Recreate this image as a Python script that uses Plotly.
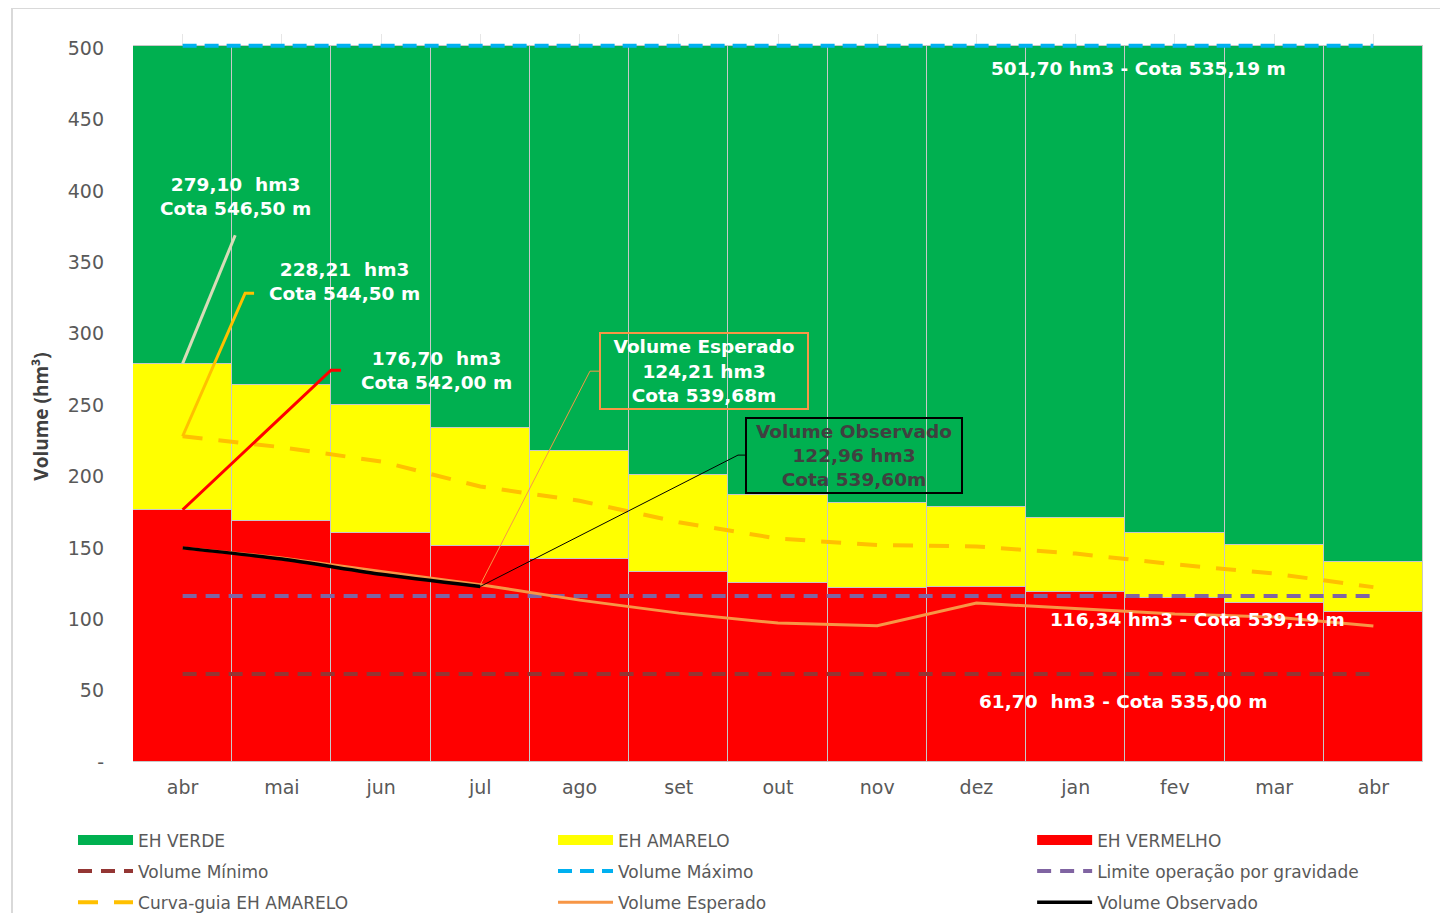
import plotly.graph_objects as go

months = ["abr", "mai", "jun", "jul", "ago", "set", "out", "nov", "dez", "jan", "fev", "mar", "abr"]
x = list(range(len(months)))

vol_max = 501.70
vol_min = 61.70
limite_grav = 116.34

# top of red band (EH VERMELHO)
red_top = [176.70, 168.8, 160.4, 151.3, 142.2, 133.1, 125.4, 121.8, 122.5, 119.0, 114.8, 111.3, 105.0]
# top of yellow band (EH AMARELO)
yellow_top = [279.10, 264.0, 250.0, 233.9, 217.8, 201.0, 187.0, 181.4, 178.6, 170.9, 160.4, 152.0, 140.1]

curva_guia = [228.21, 220.5, 210.5, 193.0, 183.0, 168.0, 156.5, 152.0, 151.0, 146.0, 138.5, 132.0, 122.5]
vol_esperado = [150.0, 143.0, 133.5, 124.21, 113.4, 104.3, 97.3, 95.5, 111.3, 107.5, 103.6, 101.5, 95.2]
vol_observado = [150.0, 142.2, 131.5, 122.96]

red_vals = red_top
yellow_vals = [yt - rt for yt, rt in zip(yellow_top, red_top)]
green_vals = [vol_max - yt for yt in yellow_top]

FONT = "DejaVu Sans"
GREY = "#595959"
bar_line = dict(color="#C8C8C8", width=1)

fig = go.Figure()

fig.add_trace(go.Bar(x=x, y=red_vals, name="EH VERMELHO", marker=dict(color="#FF0000", line=bar_line),
                     showlegend=False, hoverinfo="skip"))
fig.add_trace(go.Bar(x=x, y=yellow_vals, name="EH AMARELO", marker=dict(color="#FFFF00", line=bar_line),
                     showlegend=False, hoverinfo="skip"))
fig.add_trace(go.Bar(x=x, y=green_vals, name="EH VERDE", marker=dict(color="#00B050", line=bar_line),
                     showlegend=False, hoverinfo="skip"))

# legend entries for the bands (wide rectangle swatches)
for nm, col, lg, grp in [("EH VERDE", "#00B050", "legend", "g1"),
                         ("EH AMARELO", "#FFFF00", "legend2", "g2"),
                         ("EH VERMELHO", "#FF0000", "legend3", "g3")]:
    fig.add_trace(go.Scatter(x=[None], y=[None], mode="lines", name=nm,
                             line=dict(color=col, width=10), legend=lg, legendgroup=grp))

n = len(x)
fig.add_trace(go.Scatter(x=x, y=[vol_min] * n, mode="lines", name="Volume Mínimo",
                         line=dict(color="#943634", width=4, dash="14px,9px"),
                         legend="legend", legendgroup="g4"))
fig.add_trace(go.Scatter(x=x, y=[vol_max] * n, mode="lines", name="Volume Máximo",
                         line=dict(color="#00B0F0", width=4, dash="14px,8px"),
                         legend="legend2", legendgroup="g5"))
fig.add_trace(go.Scatter(x=x, y=[limite_grav] * n, mode="lines", name="Limite operação por gravidade",
                         line=dict(color="#8064A2", width=4, dash="14px,9px"),
                         legend="legend3", legendgroup="g6"))
fig.add_trace(go.Scatter(x=x, y=curva_guia, mode="lines", name="Curva-guia EH AMARELO",
                         line=dict(color="#FFC000", width=4, dash="20px,16px"),
                         legend="legend", legendgroup="g7"))
fig.add_trace(go.Scatter(x=x, y=vol_esperado, mode="lines", name="Volume Esperado",
                         line=dict(color="#F79646", width=3),
                         legend="legend2", legendgroup="g8"))
fig.add_trace(go.Scatter(x=x[:len(vol_observado)], y=vol_observado, mode="lines", name="Volume Observado",
                         line=dict(color="#000000", width=3.5, shape="spline", smoothing=0.6),
                         legend="legend3", legendgroup="g9"))

# leader lines (data coordinates)
def path(pts):
    return "M " + " L ".join(f"{a},{b}" for a, b in pts)

shapes = [
    dict(type="path", xref="x", yref="y", path=path([(0, yellow_top[0]), (0.53, 369)]),
         line=dict(color="#D8DCB8", width=3)),
    dict(type="path", xref="x", yref="y", path=path([(0, curva_guia[0]), (0.63, 328.4), (0.72, 328.4)]),
         line=dict(color="#FFC000", width=3)),
    dict(type="path", xref="x", yref="y", path=path([(0, red_top[0]), (1.495, 274.5), (1.596, 274.5)]),
         line=dict(color="#FF0000", width=3)),
    dict(type="path", xref="x", yref="y", path=path([(3, vol_esperado[3]), (4.105, 273.8), (4.206, 273.8)]),
         line=dict(color="#F79646", width=1)),
    dict(type="path", xref="x", yref="y", path=path([(3, vol_observado[3]), (5.597, 215), (5.678, 215)]),
         line=dict(color="#000000", width=1)),
    # outer frame
    dict(type="rect", xref="paper", yref="paper", x0=-0.0938, x1=1.2, y0=-0.4, y1=1.0357,
         line=dict(color="#D9D9D9", width=2), layer="below"),
]

FS = 18.5
wfont = dict(family=FONT, size=FS, color="white")
annotations = [
    dict(x=0.53, y=396.4, text="<b>279,10  hm3<br>Cota 546,50 m</b>", showarrow=False, font=wfont),
    dict(x=1.636, y=336.8, text="<b>228,21  hm3<br>Cota 544,50 m</b>", showarrow=False, font=wfont),
    dict(x=2.56, y=274.5, text="<b>176,70  hm3<br>Cota 542,00 m</b>", showarrow=False, font=wfont),
    dict(x=5.254, y=273.8, text="<b>Volume Esperado<br>124,21 hm3<br>Cota 539,68m</b>", showarrow=False,
         font=wfont, bordercolor="#F79646", borderwidth=2, borderpad=1, width=204, height=72),
    dict(x=6.766, y=214.6, text="<b>Volume Observado<br>122,96 hm3<br>Cota 539,60m</b>", showarrow=False,
         font=dict(family=FONT, size=FS, color="#404040"), bordercolor="#000000", borderwidth=2,
         borderpad=1, width=212, height=71),
    dict(x=9.63, y=486.0, text="<b>501,70 hm3 - Cota 535,19 m</b>", showarrow=False, font=wfont),
    dict(x=10.23, y=100.1, text="<b>116,34 hm3 - Cota 539,19 m</b>", showarrow=False, font=wfont),
    dict(x=9.48, y=42.7, text="<b>61,70  hm3 - Cota 535,00 m</b>", showarrow=False, font=wfont),
    # y-axis title
    dict(xref="paper", yref="y", x=-0.072, y=242, xanchor="center", yanchor="middle",
         text="<b>Volume (hm³)</b>", textangle=-90,
         showarrow=False, font=dict(family="Open Sans", size=19, color="#404040")),
]

legend_common = dict(orientation="v", yanchor="top", y=-0.083, xanchor="left",
                     font=dict(family=FONT, size=17, color=GREY), bgcolor="rgba(0,0,0,0)",
                     traceorder="grouped", tracegroupgap=6, itemwidth=55)

fig.update_layout(
    width=1448, height=913,
    margin=dict(l=125, r=33, t=26, b=159, autoexpand=False),
    paper_bgcolor="white", plot_bgcolor="white",
    barmode="stack", bargap=0,
    showlegend=True,
    font=dict(family=FONT, color=GREY),
    xaxis=dict(range=[-0.5, 12.5], tickmode="array", tickvals=x, ticktext=months,
               tickfont=dict(family=FONT, size=19, color=GREY), showgrid=True, gridcolor="#E6E6E6",
               zeroline=False, showline=False, ticks="", ticklen=0, ticklabelstandoff=12),
    yaxis=dict(range=[0, 510], tickmode="array", tickvals=[0, 50, 100, 150, 200, 250, 300, 350, 400, 450, 500],
               ticktext=["-", "50", "100", "150", "200", "250", "300", "350", "400", "450", "500"],
               tickfont=dict(family=FONT, size=19, color=GREY), showgrid=False, zeroline=False,
               ticks="", ticklabelstandoff=28),
    legend=dict(legend_common, x=-0.0465),
    legend2=dict(legend_common, x=0.3256),
    legend3=dict(legend_common, x=0.697),
    shapes=shapes,
    annotations=annotations,
)

fig.write_html("out.html")
